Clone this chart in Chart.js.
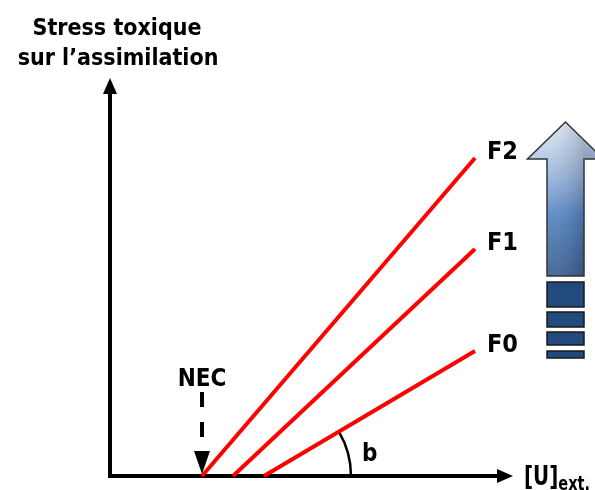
<!DOCTYPE html>
<html>
<head>
<meta charset="utf-8">
<script src="https://cdn.jsdelivr.net/npm/chart.js@4"></script>
<style>
  html, body { margin: 0; padding: 0; background: #fff; }
  #wrap { width: 595px; height: 490px; }
</style>
</head>
<body>
<div id="wrap"><canvas id="c" width="595" height="490"></canvas></div>
<script>
// concentration axis (arbitrary units), origin at the axes corner
const NEC = 9.2;
const starts = [9.2, 12.3, 15.4];      // F2, F1, F0 start on the x axis
const endX = 36.5;
const endsY = [31.8, 22.7, 12.5];      // F2, F1, F0 at the right end
const seriesNames = ['F2', 'F1', 'F0'];
const axisLen = { x: 40.3, y: 39.8 };

const FONT = "'DejaVu Sans Condensed', 'DejaVu Sans', Tahoma, sans-serif";

const datasets = seriesNames.map((name, i) => ({
  label: name,
  data: [{ x: starts[i], y: 0 }, { x: endX, y: endsY[i] }],
  borderColor: '#ff0000',
  borderWidth: 4,
  borderCapStyle: 'butt',
  pointRadius: 0,
  fill: false,
}));

function tri(ctx, pts) {
  ctx.beginPath();
  ctx.moveTo(pts[0][0], pts[0][1]);
  ctx.lineTo(pts[1][0], pts[1][1]);
  ctx.lineTo(pts[2][0], pts[2][1]);
  ctx.closePath();
  ctx.fill();
}

const schema = {
  id: 'schema',
  beforeDatasetsDraw(chart) {
    const { ctx, scales: { x, y } } = chart;
    const x0 = x.getPixelForValue(0), y0 = y.getPixelForValue(0);
    const xt = x.getPixelForValue(axisLen.x), yt = y.getPixelForValue(axisLen.y);
    ctx.save();
    ctx.strokeStyle = '#000';
    ctx.fillStyle = '#000';
    ctx.lineWidth = 4;
    ctx.beginPath();
    ctx.moveTo(x0, yt + 12);
    ctx.lineTo(x0, y0 + 2);
    ctx.moveTo(x0 - 2, y0);
    ctx.lineTo(xt - 12, y0);
    ctx.stroke();
    tri(ctx, [[x0, yt], [x0 - 7, yt + 16], [x0 + 7, yt + 16]]);
    tri(ctx, [[xt, y0], [xt - 16, y0 - 7], [xt - 16, y0 + 7]]);

    // NEC dashed arrow
    const nx = x.getPixelForValue(NEC);
    ctx.lineWidth = 4;
    ctx.setLineDash([15, 15]);
    ctx.beginPath();
    ctx.moveTo(nx, y0 - 84);
    ctx.lineTo(nx, y0 - 26);
    ctx.stroke();
    ctx.setLineDash([]);
    tri(ctx, [[nx, y0 - 2], [nx - 8, y0 - 25], [nx + 8, y0 - 25]]);

    // angle b on F0
    const cx = x.getPixelForValue(starts[2]);
    const ex = x.getPixelForValue(endX), ey = y.getPixelForValue(endsY[2]);
    const ang = Math.atan2(ey - y0, ex - cx);
    ctx.lineWidth = 2.5;
    ctx.beginPath();
    ctx.arc(cx, y0, 87, ang, 0);
    ctx.stroke();
    ctx.restore();
  },
  afterDatasetsDraw(chart) {
    const { ctx, scales: { x, y } } = chart;
    ctx.save();
    ctx.fillStyle = '#000';
    ctx.textBaseline = 'alphabetic';

    ctx.font = 'bold 23px ' + FONT;
    ctx.textAlign = 'center';
    ctx.fillText('Stress toxique', 117, 35);
    ctx.fillText('sur l\u2019assimilation', 118, 65);

    ctx.font = 'bold 24px ' + FONT;
    ctx.fillText('NEC', x.getPixelForValue(NEC), 386);

    ctx.textAlign = 'left';
    ctx.font = 'bold 25px ' + FONT;
    seriesNames.forEach((name, i) => {
      ctx.fillText(name, x.getPixelForValue(endX) + 12, y.getPixelForValue(endsY[i]) + 1);
    });
    ctx.font = 'bold 24px ' + FONT;
    ctx.fillText('b', 362, 461);

    // x axis label, narrow like the original
    ctx.save();
    ctx.translate(524, 485);
    ctx.scale(0.85, 1);
    ctx.font = 'bold 26px ' + FONT;
    ctx.fillText('[U]', 0, 0);
    const w = ctx.measureText('[U]').width;
    ctx.font = 'bold 19px ' + FONT;
    ctx.fillText('ext.', w, 5);
    ctx.restore();

    // big gradient arrow
    const L = 547, R = 584, C = 565.5;
    const path = () => {
      ctx.beginPath();
      ctx.moveTo(C, 122);
      ctx.lineTo(C + 38, 159);
      ctx.lineTo(R, 159);
      ctx.lineTo(R, 276);
      ctx.lineTo(L, 276);
      ctx.lineTo(L, 159);
      ctx.lineTo(C - 38, 159);
      ctx.closePath();
    };
    const g = ctx.createLinearGradient(0, 122, 0, 276);
    g.addColorStop(0, '#e3ebf5');
    g.addColorStop(0.35, '#9ab6dc');
    g.addColorStop(0.62, '#5383c2');
    g.addColorStop(1, '#3a5f8e');
    path();
    ctx.fillStyle = g;
    ctx.fill();
    const h = ctx.createLinearGradient(L, 0, R, 0);
    h.addColorStop(0, 'rgba(255,255,255,0.08)');
    h.addColorStop(1, 'rgba(20,35,60,0.22)');
    ctx.fillStyle = h;
    ctx.fill();
    ctx.strokeStyle = '#333';
    ctx.lineWidth = 1.5;
    ctx.stroke();
    const blocks = [[282, 307], [312, 327], [332, 345], [351, 358]];
    ctx.fillStyle = '#234a7c';
    ctx.strokeStyle = '#1a1a1a';
    blocks.forEach(([t, b]) => {
      ctx.fillRect(L, t, R - L, b - t);
      ctx.strokeRect(L, t, R - L, b - t);
    });
    ctx.restore();
  }
};

new Chart(document.getElementById('c'), {
  type: 'line',
  data: { datasets },
  options: {
    responsive: false,
    animation: false,
    layout: { padding: 0 },
    plugins: { legend: { display: false }, tooltip: { enabled: false } },
    scales: {
      x: { type: 'linear', min: -11, max: 48.5, display: false },
      y: { type: 'linear', min: -1.4, max: 47.6, display: false },
    },
  },
  plugins: [schema],
});
</script>
</body>
</html>
